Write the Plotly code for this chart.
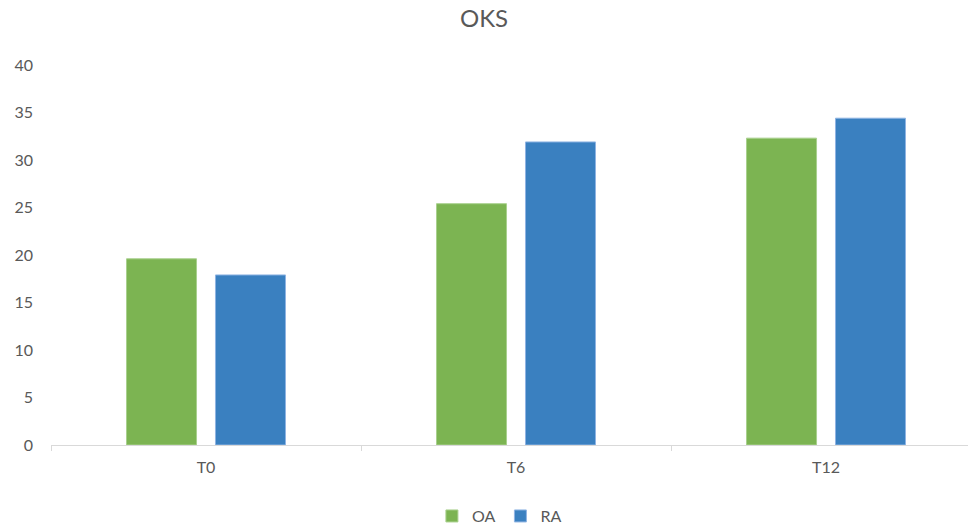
import plotly.graph_objects as go

categories = ["T0", "T6", "T12"]
oa_values = [19.6, 25.4, 32.3]
ra_values = [17.9, 31.9, 34.4]
series_names = ["OA", "RA"]
y_ticks = [0, 5, 10, 15, 20, 25, 30, 35, 40]

GREEN = "#7cb452"
BLUE = "#3a80c0"
TXT = "#595959"
FONT = "Lato, 'Open Sans', sans-serif"

fig = go.Figure()
fig.add_trace(go.Bar(x=categories, y=oa_values, name=series_names[0],
                     marker=dict(color=GREEN, line=dict(color="#a9d08e", width=1))))
fig.add_trace(go.Bar(x=categories, y=ra_values, name=series_names[1],
                     marker=dict(color=BLUE, line=dict(color="#8fb4e3", width=1))))

fig.update_layout(
    width=968, height=526,
    margin=dict(l=51, r=0, t=65, b=81, autoexpand=False),
    paper_bgcolor="white", plot_bgcolor="white",
    barmode="group", bargap=0.426, bargroupgap=0.213,
    font=dict(family=FONT, color=TXT, size=16),
    title=dict(text="OKS", x=0.5, xref="container", xanchor="center",
               y=1 - 19 / 526, yanchor="middle", yref="container",
               font=dict(size=24, color=TXT, family=FONT)),
    showlegend=True,
    legend=dict(orientation="h", x=0.489, xanchor="center", y=-0.187, yanchor="middle",
                font=dict(size=16, color=TXT), itemwidth=30, traceorder="normal"),
    xaxis=dict(range=[-0.5, 2.458], tickson="boundaries", ticks="outside", ticklen=5,
               tickcolor="#d9d9d9", showline=True, linecolor="#d9d9d9", linewidth=1,
               showgrid=False, tickfont=dict(size=16, color=TXT), ticklabelstandoff=8),
    yaxis=dict(range=[0, 40], tickvals=y_ticks, showgrid=False, zeroline=False,
               showline=False, ticks="", tickfont=dict(size=16, color=TXT),
               ticklabelstandoff=17),
)

fig.write_html("out.html")
